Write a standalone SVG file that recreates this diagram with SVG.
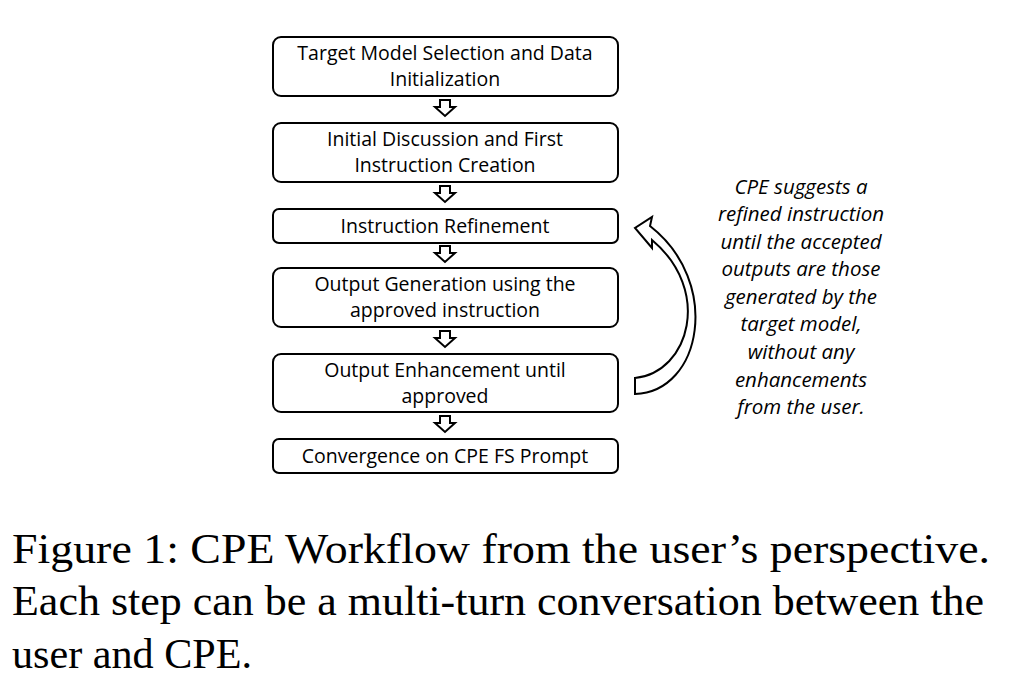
<svg xmlns="http://www.w3.org/2000/svg" width="1010" height="696" viewBox="0 0 1010 696">
<style>
.b{fill:#fff;stroke:#000;stroke-width:2}
.t{font-family:"Open Sans","Liberation Sans",sans-serif;font-size:19.5px;text-anchor:middle}
.i{font-family:"Open Sans","Liberation Sans",sans-serif;font-size:20.5px;font-style:italic;text-anchor:middle}
.c{font-family:"Liberation Serif",serif;font-size:42px}
.a{fill:#fff;stroke:#000;stroke-width:2;stroke-linejoin:miter}
</style>
<defs>
<path id="da" d="M-5,-7 H5 V0 H10 L0,9 L-10,0 H-5 Z" class="a"/>
</defs>
<rect width="1010" height="696" fill="#fff"/>
<g id="n1"><rect class="b" x="273" y="37" width="345" height="59" rx="8"/><text class="t" x="445" y="60">Target Model Selection and Data</text><text class="t" x="445" y="86">Initialization</text></g>
<g id="n2"><rect class="b" x="273" y="123" width="345" height="59" rx="8"/><text class="t" x="445" y="146">Initial Discussion and First</text><text class="t" x="445" y="172">Instruction Creation</text></g>
<g id="n3"><rect class="b" x="273" y="209" width="345" height="34" rx="6"/><text class="t" x="445" y="233">Instruction Refinement</text></g>
<g id="n4"><rect class="b" x="273" y="268" width="345" height="59" rx="8"/><text class="t" x="445" y="291">Output Generation using the</text><text class="t" x="445" y="317">approved instruction</text></g>
<g id="n5"><rect class="b" x="273" y="354" width="345" height="58" rx="8"/><text class="t" x="445" y="377">Output Enhancement until</text><text class="t" x="445" y="403">approved</text></g>
<g id="n6"><rect class="b" x="273" y="439" width="345" height="34" rx="6"/><text class="t" x="445" y="463">Convergence on CPE FS Prompt</text></g>
<g id="connectors">
<use href="#da" x="445" y="107"/>
<use href="#da" x="445" y="193"/>
<use href="#da" x="445" y="253"/>
<use href="#da" x="445" y="338"/>
<use href="#da" x="445" y="423"/>
<path class="a" d="M635,378 C690,372 712,290 652,240 L652,248 L635,228 L652,217 L650,226 C722,282 702,392 635,394 Z"/>
</g>
<g id="note">
<text class="i" x="801" y="194">CPE suggests a</text>
<text class="i" x="801" y="221">refined instruction</text>
<text class="i" x="801" y="249">until the accepted</text>
<text class="i" x="801" y="276">outputs are those</text>
<text class="i" x="801" y="304">generated by the</text>
<text class="i" x="801" y="331">target model,</text>
<text class="i" x="801" y="359">without any</text>
<text class="i" x="801" y="387">enhancements</text>
<text class="i" x="801" y="414">from the user.</text>
</g>
<g id="caption">
<text class="c" x="12" y="563" textLength="978" lengthAdjust="spacingAndGlyphs">Figure 1: CPE Workflow from the user’s perspective.</text>
<text class="c" x="12" y="615" textLength="972" lengthAdjust="spacingAndGlyphs">Each step can be a multi-turn conversation between the</text>
<text class="c" x="12" y="668" textLength="240" lengthAdjust="spacingAndGlyphs">user and CPE.</text>
</g>
</svg>
